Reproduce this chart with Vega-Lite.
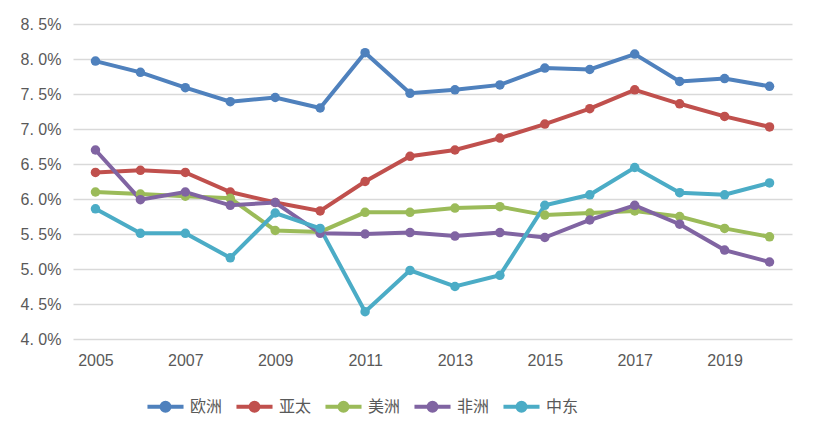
{
  "$schema": "https://vega.github.io/schema/vega-lite/v6.json",
  "width": 719,
  "height": 315,
  "autosize": "none",
  "padding": {"left": 73, "top": 24, "right": 24, "bottom": 95},
  "background": "white",
  "config": {
    "view": {"stroke": null},
    "font": "Noto Sans CJK SC"
  },
  "data": {
    "values": [
      {"year": 2005, "region": "欧洲", "v": 7.97}, {"year": 2006, "region": "欧洲", "v": 7.81}, {"year": 2007, "region": "欧洲", "v": 7.59}, {"year": 2008, "region": "欧洲", "v": 7.39},
      {"year": 2009, "region": "欧洲", "v": 7.45}, {"year": 2010, "region": "欧洲", "v": 7.30}, {"year": 2011, "region": "欧洲", "v": 8.09}, {"year": 2012, "region": "欧洲", "v": 7.51},
      {"year": 2013, "region": "欧洲", "v": 7.56}, {"year": 2014, "region": "欧洲", "v": 7.63}, {"year": 2015, "region": "欧洲", "v": 7.87}, {"year": 2016, "region": "欧洲", "v": 7.85},
      {"year": 2017, "region": "欧洲", "v": 8.07}, {"year": 2018, "region": "欧洲", "v": 7.68}, {"year": 2019, "region": "欧洲", "v": 7.72}, {"year": 2020, "region": "欧洲", "v": 7.61},
      {"year": 2005, "region": "亚太", "v": 6.38}, {"year": 2006, "region": "亚太", "v": 6.41}, {"year": 2007, "region": "亚太", "v": 6.38}, {"year": 2008, "region": "亚太", "v": 6.10},
      {"year": 2009, "region": "亚太", "v": 5.95}, {"year": 2010, "region": "亚太", "v": 5.83}, {"year": 2011, "region": "亚太", "v": 6.25}, {"year": 2012, "region": "亚太", "v": 6.61},
      {"year": 2013, "region": "亚太", "v": 6.70}, {"year": 2014, "region": "亚太", "v": 6.87}, {"year": 2015, "region": "亚太", "v": 7.07}, {"year": 2016, "region": "亚太", "v": 7.29},
      {"year": 2017, "region": "亚太", "v": 7.56}, {"year": 2018, "region": "亚太", "v": 7.36}, {"year": 2019, "region": "亚太", "v": 7.18}, {"year": 2020, "region": "亚太", "v": 7.03},
      {"year": 2005, "region": "美洲", "v": 6.10}, {"year": 2006, "region": "美洲", "v": 6.07}, {"year": 2007, "region": "美洲", "v": 6.04}, {"year": 2008, "region": "美洲", "v": 6.01},
      {"year": 2009, "region": "美洲", "v": 5.55}, {"year": 2010, "region": "美洲", "v": 5.53}, {"year": 2011, "region": "美洲", "v": 5.81}, {"year": 2012, "region": "美洲", "v": 5.81},
      {"year": 2013, "region": "美洲", "v": 5.87}, {"year": 2014, "region": "美洲", "v": 5.89}, {"year": 2015, "region": "美洲", "v": 5.77}, {"year": 2016, "region": "美洲", "v": 5.80},
      {"year": 2017, "region": "美洲", "v": 5.83}, {"year": 2018, "region": "美洲", "v": 5.75}, {"year": 2019, "region": "美洲", "v": 5.58}, {"year": 2020, "region": "美洲", "v": 5.46},
      {"year": 2005, "region": "非洲", "v": 6.70}, {"year": 2006, "region": "非洲", "v": 5.99}, {"year": 2007, "region": "非洲", "v": 6.10}, {"year": 2008, "region": "非洲", "v": 5.91},
      {"year": 2009, "region": "非洲", "v": 5.95}, {"year": 2010, "region": "非洲", "v": 5.51}, {"year": 2011, "region": "非洲", "v": 5.50}, {"year": 2012, "region": "非洲", "v": 5.52},
      {"year": 2013, "region": "非洲", "v": 5.47}, {"year": 2014, "region": "非洲", "v": 5.52}, {"year": 2015, "region": "非洲", "v": 5.45}, {"year": 2016, "region": "非洲", "v": 5.70},
      {"year": 2017, "region": "非洲", "v": 5.91}, {"year": 2018, "region": "非洲", "v": 5.64}, {"year": 2019, "region": "非洲", "v": 5.27}, {"year": 2020, "region": "非洲", "v": 5.10},
      {"year": 2005, "region": "中东", "v": 5.86}, {"year": 2006, "region": "中东", "v": 5.51}, {"year": 2007, "region": "中东", "v": 5.51}, {"year": 2008, "region": "中东", "v": 5.16},
      {"year": 2009, "region": "中东", "v": 5.80}, {"year": 2010, "region": "中东", "v": 5.58}, {"year": 2011, "region": "中东", "v": 4.39}, {"year": 2012, "region": "中东", "v": 4.98},
      {"year": 2013, "region": "中东", "v": 4.75}, {"year": 2014, "region": "中东", "v": 4.91}, {"year": 2015, "region": "中东", "v": 5.91}, {"year": 2016, "region": "中东", "v": 6.06},
      {"year": 2017, "region": "中东", "v": 6.45}, {"year": 2018, "region": "中东", "v": 6.09}, {"year": 2019, "region": "中东", "v": 6.06}, {"year": 2020, "region": "中东", "v": 6.23}
    ]
  },
  "encoding": {
    "x": {
      "field": "year", "type": "quantitative",
      "scale": {"domain": [2004.5, 2020.5], "nice": false, "zero": false},
      "axis": {
        "title": null, "grid": false, "ticks": false, "domain": false,
        "values": [2005, 2007, 2009, 2011, 2013, 2015, 2017, 2019],
        "format": "d", "labelFont": "Liberation Sans", "labelFontSize": 16,
        "labelColor": "#595959", "labelPadding": 13
      }
    },
    "y": {
      "field": "v", "type": "quantitative",
      "scale": {"domain": [4.0, 8.5], "nice": false, "zero": false},
      "axis": {
        "title": null, "ticks": false, "domain": false,
        "values": [4.0, 4.5, 5.0, 5.5, 6.0, 6.5, 7.0, 7.5, 8.0, 8.5],
        "labelExpr": "replace(format(datum.value, '.1f'), '.', '. ') + '%'",
        "labelFont": "Liberation Sans", "labelFontSize": 16, "labelColor": "#595959",
        "labelPadding": 12,
        "gridColor": "#D9D9D9", "gridWidth": 1.5
      }
    },
    "color": {
      "field": "region", "type": "nominal",
      "scale": {
        "domain": ["欧洲", "亚太", "美洲", "非洲", "中东"],
        "range": ["#4F81BD", "#C0504D", "#9BBB59", "#8064A2", "#4BACC6"]
      },
      "legend": {
        "title": null, "orient": "none", "direction": "horizontal",
        "legendX": 72, "legendY": 362,
        "symbolType": "M -1 0 L 1 0 M 0.22 0 A 0.22 0.22 0 1 1 -0.22 0 A 0.22 0.22 0 1 1 0.22 0",
        "symbolSize": 1300, "symbolStrokeWidth": 4,
        "labelFont": "Noto Sans CJK SC", "labelFontSize": 16, "labelColor": "#595959",
        "labelOffset": 4, "columnPadding": 5
      }
    }
  },
  "layer": [
    {"mark": {"type": "line", "strokeWidth": 4}},
    {"mark": {"type": "point", "filled": true, "opacity": 1, "size": 90}}
  ]
}
